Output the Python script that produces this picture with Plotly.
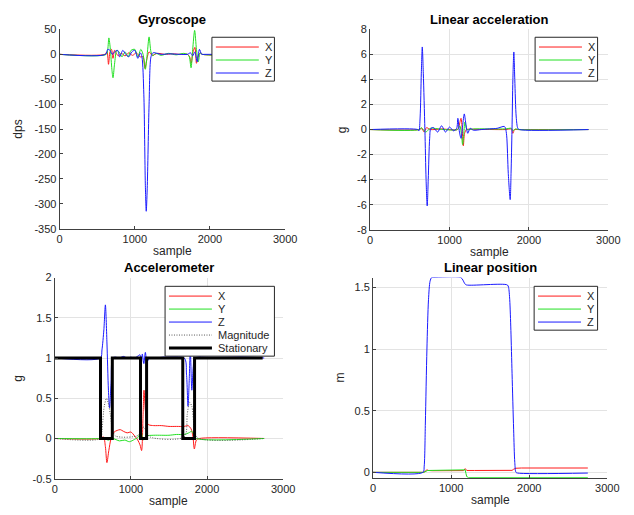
import plotly.graph_objects as go

# ---------------- data ----------------
# Gyroscope (dps)
gyr_x_s = [0, 600, 630, 650, 670, 690, 710, 730, 750, 780, 820, 870, 920, 970, 1020, 1070, 1110, 1135, 1160, 1190, 1230, 1300, 1400, 1500, 1600, 1700, 1730, 1750, 1775, 1800, 1820, 1840, 1870, 1900, 2750]
gyr_x_v = [0, 0, 5, -20, 5, 10, -8, 8, 3, -3, 2, -3, 3, -2, 3, -5, -5, -28, -10, 5, -2, 2, 0, 1, 0, 0, -5, -18, 5, 14, -18, -5, 3, 0, 0]
gyr_y_s = [0, 620, 640, 655, 675, 695, 710, 730, 760, 790, 830, 870, 910, 950, 1000, 1040, 1080, 1110, 1140, 1165, 1190, 1215, 1240, 1280, 1350, 1450, 1550, 1650, 1700, 1725, 1748, 1770, 1796, 1820, 1845, 1870, 1900, 2750]
gyr_y_v = [0, 0, 10, 33, 10, -30, -47, -20, 8, 5, -5, 5, -5, 8, 10, -5, 10, 0, -30, 0, 35, 5, -3, 2, -2, 2, -1, 2, 0, -5, -27, 10, 48, 10, -15, 3, 0, 0]
gyr_z_s = [0, 610, 640, 670, 700, 730, 770, 800, 840, 880, 920, 960, 1000, 1040, 1075, 1095, 1120, 1140, 1152, 1165, 1190, 1215, 1240, 1270, 1350, 1450, 1600, 1700, 1740, 1770, 1800, 1830, 1860, 1890, 1920, 2750]
gyr_z_v = [0, 0, 10, 8, 0, 5, 8, -5, 8, 0, -5, 5, 8, -8, 3, -5, -80, -260, -315, -270, -100, -5, 3, 3, 0, 1, 0, 0, 3, -3, 5, -15, 10, 0, 0, 0]

# Linear acceleration (g)
lin_x_s = [0, 620, 650, 680, 710, 760, 900, 1100, 1120, 1145, 1160, 1174, 1190, 1215, 1300, 1700, 1780, 1798, 1820, 1860, 2750]
lin_x_v = [0, 0, 0.1, -0.2, 0.15, 0, 0.05, 0, 0.3, 0.9, 0, -1.3, -0.3, 0, 0.02, 0, 0.05, -0.3, 0, 0, 0]
lin_y_s = [0, 620, 645, 700, 760, 900, 1100, 1130, 1150, 1165, 1180, 1194, 1220, 1300, 1700, 1780, 1800, 1830, 1870, 2750]
lin_y_v = [0, 0, 0.15, -0.2, 0.1, 0.02, 0, 0.3, -0.4, -1.2, -0.3, 0.6, 0, 0.05, 0.05, 0.1, -0.1, 0.05, 0, 0]
lin_z_s = [0, 600, 615, 630, 645, 657, 670, 690, 705, 719, 732, 750, 765, 800, 850, 900, 950, 1000, 1050, 1090, 1105, 1125, 1145, 1165, 1186, 1205, 1230, 1260, 1300, 1400, 1500, 1600, 1690, 1705, 1720, 1740, 1764, 1775, 1787, 1798, 1810, 1822, 1840, 1860, 1880, 2750]
lin_z_v = [0, 0, -0.1, 1.0, 4.5, 6.6, 4.5, 0, -4.0, -6.1, -4.0, -0.7, 0.1, 0.15, -0.2, 0.3, -0.2, 0.2, -0.1, 0.1, 0.9, -0.2, -0.7, 0.3, 1.25, 0.5, -0.3, 0.1, -0.05, 0, 0.05, 0.1, 0.25, 0.1, -0.5, -3.5, -5.6, -3.5, 0, 4.0, 6.2, 4.0, 1.0, 0.1, 0, 0]

# Accelerometer (g)
acc_x_s = [0, 600, 640, 665, 685, 710, 740, 780, 820, 860, 900, 950, 1000, 1050, 1090, 1120, 1140, 1160, 1172, 1190, 1210, 1235, 1300, 1400, 1500, 1600, 1700, 1750, 1790, 1815, 1833, 1860, 1900, 2750]
acc_x_v = [0, 0, 0.02, -0.1, -0.3, -0.15, 0.0, 0.08, 0.1, 0.11, 0.09, 0.07, 0.08, 0.03, -0.02, -0.08, -0.15, 0.3, 0.6, 0.35, 0.2, 0.17, 0.16, 0.16, 0.15, 0.15, 0.15, 0.16, 0.12, 0.02, -0.13, -0.02, 0, 0]
acc_y_s = [0, 600, 650, 700, 760, 850, 920, 980, 1050, 1100, 1130, 1160, 1200, 1300, 1400, 1500, 1600, 1700, 1760, 1800, 1830, 1860, 2750]
acc_y_v = [0, 0, 0.01, -0.02, 0.0, -0.03, -0.02, -0.04, -0.01, 0.02, 0.12, -0.02, 0.03, 0.04, 0.04, 0.04, 0.05, 0.05, 0.07, 0.09, 0.04, 0, 0]
acc_z_s = [0, 600, 620, 645, 665, 685, 705, 720, 740, 760, 800, 850, 900, 950, 1000, 1050, 1100, 1120, 1135, 1150, 1170, 1190, 1210, 1230, 1250, 1300, 1700, 1730, 1750, 1765, 1780, 1800, 1820, 1840, 2750]
acc_z_v = [1, 1, 1.1, 1.35, 1.66, 1.2, 0.6, 0.38, 0.7, 1.0, 1.01, 1.0, 1.02, 1.0, 1.01, 1.0, 1.03, 1.04, 0.9, 1.05, 0.93, 1.07, 0.95, 0.98, 1.0, 1.0, 1.0, 0.8, 0.4, 0.7, 1.1, 0.6, 0.9, 1.0, 1.0]
acc_m_s = [0, 600, 620, 650, 680, 700, 730, 760, 800, 1100, 1150, 1200, 1250, 1700, 1740, 1770, 1800, 1830, 1870, 2750]
acc_m_v = [0, 0, 0.1, 0.4, 0.5, 0.45, 0.3, 0.1, 0.03, 0.04, 0.15, 0.1, 0.02, 0.02, 0.3, 0.45, 0.4, 0.15, 0.01, 0]
stat_s = [0, 601, 601, 756, 756, 1126, 1126, 1206, 1206, 1681, 1681, 1836, 1836, 2730]
stat_v = [1, 1, 0, 0, 1, 1, 0, 0, 1, 1, 0, 0, 1, 1]

# Linear position (m)
pos_x_s = [0, 650, 690, 710, 760, 1000, 1160, 1180, 1200, 1300, 1780, 1800, 1830, 1900, 2750]
pos_x_v = [0, 0, 0.02, 0.015, 0.013, 0.013, 0.014, 0.03, 0.015, 0.015, 0.016, 0.025, 0.033, 0.035, 0.035]
pos_y_s = [0, 650, 700, 750, 1000, 1165, 1180, 1190, 1200, 1220, 2750]
pos_y_v = [0, 0, 0.015, 0.015, 0.015, 0.017, 0.02, -0.01, -0.035, -0.042, -0.042]
pos_z_s = [0, 640, 655, 670, 690, 710, 730, 750, 770, 1125, 1150, 1175, 1195, 1720, 1735, 1750, 1765, 1780, 1800, 1815, 1830, 1850, 2750]
pos_z_v = [0, 0, 0.05, 0.4, 1.0, 1.4, 1.55, 1.58, 1.58, 1.58, 1.56, 1.53, 1.52, 1.52, 1.5, 1.4, 1.15, 0.8, 0.35, 0.08, 0.0, -0.006, -0.006]

x_ticks = [0, 1000, 2000, 3000]
x_ticktext = ["0", "1000", "2000", "3000"]
gyr_ticks = [-350, -300, -250, -200, -150, -100, -50, 0, 50]
gyr_ticktext = ["-350", "-300", "-250", "-200", "-150", "-100", "-50", "0", "50"]
lin_ticks = [-8, -6, -4, -2, 0, 2, 4, 6, 8]
lin_ticktext = ["-8", "-6", "-4", "-2", "0", "2", "4", "6", "8"]
acc_ticks = [-0.5, 0, 0.5, 1, 1.5, 2]
acc_ticktext = ["-0.5", "0", "0.5", "1", "1.5", "2"]
pos_ticks = [0, 0.5, 1, 1.5]
pos_ticktext = ["0", "0.5", "1", "1.5"]

titles = ["Gyroscope", "Linear acceleration", "Accelerometer", "Linear position"]
ylabels = ["dps", "g", "g", "m"]

# ---------------- style ----------------
RED = "#ff1a1a"
GREEN = "#22e022"
BLUE = "#1a1aff"
FONT = "Liberation Sans, Arial, sans-serif"
W, H = 634, 515

fig = go.Figure()
entries = {0: [], 1: [], 2: [], 3: []}

def add(xs, ys, name, color, idx, shape="spline", width=1, dash="solid"):
    ax = "" if idx == 0 else str(idx + 1)
    fig.add_trace(go.Scatter(
        x=xs, y=ys, name=name, mode="lines",
        line=dict(color=color, width=width, shape=shape, dash=dash,
                  smoothing=0.8 if shape == "spline" else None),
        xaxis="x" + ax, yaxis="y" + ax, showlegend=False, hoverinfo="skip"))
    entries[idx].append((name, color, width, dash))

add(gyr_x_s, gyr_x_v, "X", RED, 0)
add(gyr_y_s, gyr_y_v, "Y", GREEN, 0)
add(gyr_z_s, gyr_z_v, "Z", BLUE, 0)

add(lin_x_s, lin_x_v, "X", RED, 1)
add(lin_y_s, lin_y_v, "Y", GREEN, 1)
add(lin_z_s, lin_z_v, "Z", BLUE, 1)

add(acc_x_s, acc_x_v, "X", RED, 2)
add(acc_y_s, acc_y_v, "Y", GREEN, 2)
add(acc_z_s, acc_z_v, "Z", BLUE, 2)
add(acc_m_s, acc_m_v, "Magnitude", "#555555", 2, dash="1px,1.5px")
add(stat_s, stat_v, "Stationary", "black", 2, shape="linear", width=3)

add(pos_x_s, pos_x_v, "X", RED, 3, shape="linear")
add(pos_y_s, pos_y_v, "Y", GREEN, 3, shape="linear")
add(pos_z_s, pos_z_v, "Z", BLUE, 3)

# plot areas in pixels (left, right, top, bottom)
boxes = [(58, 289, 24, 228), (376, 620, 24, 229), (53, 287, 278, 484), (379, 619, 278, 483)]
yranges = [[-350, 50], [-8, 8], [-0.5, 2], [-0.044, 1.58]]
yticks = [(gyr_ticks, gyr_ticktext), (lin_ticks, lin_ticktext), (acc_ticks, acc_ticktext), (pos_ticks, pos_ticktext)]
grids = [False, True, True, True]
ylab_off = [43, 29, 38, 34]

layout = dict(width=W, height=H, margin=dict(l=0, r=0, t=0, b=0),
              paper_bgcolor="white", plot_bgcolor="white",
              font=dict(family=FONT, size=11, color="#262626"),
              annotations=[], shapes=[], showlegend=False, hovermode=False)

for i, (l, r, t, b) in enumerate(boxes):
    suf = "" if i == 0 else str(i + 1)
    xd = [l / W, r / W]
    yd = [1 - b / H, 1 - t / H]
    common = dict(showline=True, linecolor="#404040", linewidth=1,
                  ticks="inside", ticklen=3, tickcolor="#404040",
                  showgrid=grids[i], gridcolor="#e3e3e3", zeroline=False,
                  tickfont=dict(size=11, color="#262626"), mirror=False, fixedrange=True)
    layout["xaxis" + suf] = dict(domain=xd, range=[0, 3000], tickvals=x_ticks,
                                 ticktext=x_ticktext, anchor="y" + suf, **common)
    layout["yaxis" + suf] = dict(domain=yd, range=yranges[i], tickvals=yticks[i][0],
                                 ticktext=yticks[i][1], anchor="x" + suf, **common)
    cx = (l + r) / 2 / W
    layout["annotations"].append(dict(
        text="<b>" + titles[i] + "</b>", x=cx, y=1 - (t - 10) / H, xref="paper", yref="paper",
        xanchor="center", yanchor="middle", showarrow=False,
        font=dict(size=13, color="black", family=FONT)))
    layout["annotations"].append(dict(
        text="sample", x=cx, y=1 - (b + 23) / H, xref="paper", yref="paper",
        xanchor="center", yanchor="middle", showarrow=False,
        font=dict(size=12, color="#262626", family=FONT)))
    layout["annotations"].append(dict(
        text=ylabels[i], x=(l - ylab_off[i]) / W, y=(yd[0] + yd[1]) / 2, xref="paper", yref="paper",
        xanchor="center", yanchor="middle", showarrow=False, textangle=-90,
        font=dict(size=12, color="#262626", family=FONT)))

# legend boxes (left, top, width) in pixels
legboxes = [(214, 32, 64), (545, 32, 64), (166, 287, 112), (544, 287, 65)]
ROW = 13.3
for i, (lx, ly, lw) in enumerate(legboxes):
    items = entries[i]
    lh = 7 + ROW * len(items) - 2
    layout["shapes"].append(dict(type="rect", xref="paper", yref="paper",
                                 x0=lx / W, x1=(lx + lw) / W, y0=1 - (ly + lh) / H, y1=1 - ly / H,
                                 fillcolor="white", line=dict(color="#262626", width=1), layer="above"))
    for k, (name, color, width, dash) in enumerate(items):
        yy = 1 - (ly + 10 + ROW * k) / H
        layout["shapes"].append(dict(type="line", xref="paper", yref="paper",
                                     x0=(lx + 4) / W, x1=(lx + 48) / W, y0=yy, y1=yy,
                                     line=dict(color=color, width=width, dash=dash), layer="above"))
        layout["annotations"].append(dict(text=name, x=(lx + 52) / W, y=yy, xref="paper", yref="paper",
                                          xanchor="left", yanchor="middle", showarrow=False,
                                          font=dict(size=11, color="#262626", family=FONT)))

fig.update_layout(**layout)
fig.write_html("out.html", config={"displayModeBar": False, "staticPlot": True},
               post_script="document.body.style.margin='0';document.body.style.overflow='hidden';")
